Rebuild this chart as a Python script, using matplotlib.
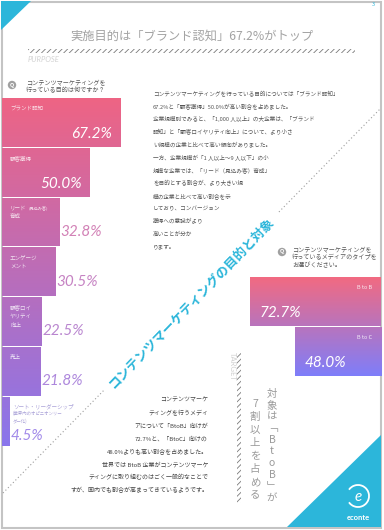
import numpy as np
import matplotlib
matplotlib.use("Agg")
import matplotlib.pyplot as plt
from matplotlib.patches import Rectangle, Polygon, Circle, Arc

plt.rcParams['font.family'] = ['Noto Sans CJK JP', 'DejaVu Sans']
plt.rcParams['hatch.linewidth'] = 0.6

W, H = 384, 530

# --- data ---
purpose_labels = [["ブランド認知"], ["顧客獲得"], ["リード", "育成"], ["エンゲージ", "メント"],
                  ["顧客ロイ", "ヤリティ", "向上"], ["売上"],
                  ["ソート・リーダーシップ", "(業界内のオピニオンリー", "ダー化)"]]
purpose_values = [67.2, 50.0, 32.8, 30.5, 22.5, 21.8, 4.5]
media_labels = ["B to B", "B to C"]
media_values = [72.7, 48.0]

title = "実施目的は「ブランド認知」67.2%がトップ"
q1_lines = ["コンテンツマーケティングを", "行っている目的は何ですか？"]
q2_lines = ["コンテンツマーケティングを", "行っているメディアのタイプを", "お選びください。"]
para1 = ["コンテンツマーケティングを行っている目的については「ブランド認知」",
         "67.2%と「顧客獲得」50.0%が高い割合を占めました。",
         "企業規模別でみると、「1,000 人以上」の大企業は、「ブランド",
         "認知」と「顧客ロイヤリティ向上」について、より小さ",
         "い規模の企業と比べて高い傾向がありました。",
         "一方、企業規模が「1 人以上～9 人以下」の小",
         "規模な企業では、「リード（見込み客）育成」",
         "を目的とする割合が、より大きい規",
         "模の企業と比べて高い割合を示",
         "しており、コンバージョン",
         "獲得への意識がより",
         "高いことが分か",
         "ります。"]
para2 = ["コンテンツマーケ",
         "ティングを行うメディ",
         "アについて「BtoB」向けが",
         "72.7%と、「BtoC」向けの",
         "48.0%よりも高い割合を占めました。",
         "世界では BtoB 企業がコンテンツマーケ",
         "ティングに取り組むのはごく一般的なことで",
         "すが、国内でも割合が高まってきているようです。"]
vert1 = "対象は﹁BtoB﹂が"
vert2 = "7割以上を占める"

CYAN = "#2cb6da"
PINK = np.array([238, 100, 132]) / 255
VIOLET = np.array([137, 118, 236]) / 255
M_TOP = np.array([243, 106, 128]) / 255
M_BOT = np.array([126, 126, 250]) / 255


def rect(x0, y0, x1, y1):
    return [x0 / W, 1 - y1 / H, (x1 - x0) / W, (y1 - y0) / H]


def grad(c0, c1, f0, f1, n=64):
    f = np.linspace(f0, f1, n)[:, None, None]
    return c0 + (c1 - c0) * f


fig = plt.figure(figsize=(W / 100, H / 100), dpi=100)
bg = fig.add_axes([0, 0, 1, 1])
bg.set_xlim(0, W)
bg.set_ylim(H, 0)
bg.axis('off')

# page frame and corners
bg.add_patch(Rectangle((1.5, 1.5), 379.5, 526, fill=False, ec="#c4c4c4", lw=1.5))
bg.add_patch(Polygon([(1, 1), (31, 1), (1, 30)], closed=True, fc=CYAN, ec="none"))
bg.add_patch(Polygon([(287, 527), (381, 435), (381, 527)], closed=True, fc=CYAN, ec="none"))
bg.text(373, 5, "3", fontsize=4, color=CYAN, ha="center", va="center")

# logo
bg.add_patch(Arc((358, 496), 22, 22, theta1=215, theta2=505, color="white", lw=1.3))
bg.text(358, 497, "e", fontsize=11, color="white", ha="center", va="center",
        family=["Lato", "DejaVu Sans"], style="italic")
bg.text(358, 517, "econte", fontsize=5.5, color="white", ha="center", va="center",
        weight="bold", family=["Lato", "DejaVu Sans"])

# title
bg.text(192, 36, title, fontsize=8.8, color="#a3a3a3", ha="center", va="center")
bg.add_patch(Rectangle((28, 49), 327, 4, fill=False, ec="#7a7a7a", lw=0, hatch="//////"))
bg.text(28, 60, "PURPOSE", fontsize=5.5, color="#d3d3d3", ha="left", va="center",
        style="italic", family=["Lato", "DejaVu Sans"])

# question icons
for (cx, cy), lines, x0, dy in [((12, 85), q1_lines, 26, 7.5), ((282, 252), q2_lines, 292, 7.5)]:
    bg.add_patch(Circle((cx, cy), 4.2, fc="#a0a0a0", ec="none"))
    bg.text(cx, cy, "Q", fontsize=4, color="white", ha="center", va="center", weight="bold")
    for k, s in enumerate(lines):
        bg.text(x0, cy - 2 + k * dy, s, fontsize=4.4, color="#555555", ha="left", va="center")

# paragraphs
for k, s in enumerate(para1):
    bg.text(153, 94 + k * 12.75, s, fontsize=4.05, color="#555555", ha="left", va="center")
for k, s in enumerate(para2):
    bg.text(208, 400 + k * 12.85, s, fontsize=4.3, color="#444444", ha="right", va="center")

# diagonal dotted line and title
p0, p1 = np.array([3, 493]), np.array([381, 108])
for t0, t1 in [(0, 0.27), (0.73, 1)]:
    a, b = p0 + (p1 - p0) * t0, p0 + (p1 - p0) * t1
    bg.plot([a[0], b[0]], [a[1], b[1]], color="#9c9c9c", lw=0.8, ls=(0, (1, 2.2)))
bg.text(191, 303, "コンテンツマーケティングの目的と対象", fontsize=9.3, color=CYAN,
        rotation=46, rotation_mode="anchor", ha="center", va="center", weight="bold")

# target side
bg.text(232, 366, "TARGET", fontsize=5.5, color="#d0d0d0", rotation=270,
        ha="center", va="center", family=["Lato", "DejaVu Sans"])
bg.add_patch(Rectangle((237, 353), 4, 150, fill=False, ec="#7a7a7a", lw=0, hatch="//////"))
for k, ch in enumerate(vert1):
    bg.text(272, 394 + k * 11.5, ch, fontsize=7.5, color="#9a9a9a", ha="center", va="center")
for k, ch in enumerate(vert2):
    bg.text(255, 404 + k * 13.0, ch, fontsize=7.5, color="#9a9a9a", ha="center", va="center")

# --- purpose bars ---
axl = fig.add_axes(rect(2, 97.5, 178, 446))
n = len(purpose_values)
pos = np.arange(n)
unit = (446 - 97.5) / n
bars = axl.barh(pos, purpose_values, height=0.98, color="none", lw=0)
for i, (b, v) in enumerate(zip(bars, purpose_values)):
    im = axl.imshow(grad(PINK, VIOLET, i / n, (i + 1) / n), extent=(0, v, i + 0.49, i - 0.49),
                    aspect="auto", origin="upper", interpolation="bilinear", zorder=2)
    im.set_clip_path(b)
    mid = PINK + (VIOLET - PINK) * (i + 0.5) / n
    light = mid + (1 - mid) * 0.15
    if i < 2:
        axl.text(v - 4.5, i + 0.24, f"{v:.1f}%", fontsize=11, color="white", ha="right",
                 va="center", style="italic", family=["Lato", "DejaVu Sans"], zorder=3)
    else:
        dy = 0.3 if i == n - 1 else 0.2
        axl.text(v + 0.6, i + dy, f"{v:.1f}%", fontsize=11, color=light, ha="left",
                 va="center", style="italic", family=["Lato", "DejaVu Sans"], zorder=3)
    lines = purpose_labels[i]
    if i == n - 1:
        for k, s in enumerate(lines):
            axl.text(6.3, i - 0.5 + (10 + 7.5 * k) / unit, s, fontsize=4 if k == 0 else 3.2,
                     color="#aaa2d8", ha="left", va="center", zorder=3)
    else:
        for k, s in enumerate(lines):
            axl.text(4.5, i - 0.5 + (11 + 8.8 * k) / unit, s, fontsize=4, color="white",
                     alpha=0.8, ha="left", va="center", zorder=3)
    if i == 2:
        axl.text(15.3, i - 0.5 + 11 / unit, "(見込み客)", fontsize=3, color="white",
                 alpha=0.8, ha="left", va="center", zorder=3)
axl.set_xlim(0, 100)
axl.set_ylim(n - 0.5, -0.5)
axl.axis("off")

# --- media bars ---
axr = fig.add_axes(rect(201, 277, 381, 376))
m = len(media_values)
mpos = np.arange(m)
mbars = axr.barh(mpos, media_values, height=0.99, color="none", lw=0)
for i, (b, v) in enumerate(zip(mbars, media_values)):
    im = axr.imshow(grad(M_TOP, M_BOT, i / m, (i + 1) / m), extent=(0, v, i + 0.5, i - 0.5),
                    aspect="auto", origin="upper", interpolation="bilinear", zorder=2)
    im.set_clip_path(b)
    axr.text(9.4, i - 0.28, media_labels[i], fontsize=4, color="white", alpha=0.85,
             ha="center", va="center", zorder=3)
    axr.text(v - 5.5, i + 0.23, f"{v:.1f}%", fontsize=11, color="white", ha="left",
             va="center", style="italic", family=["Lato", "DejaVu Sans"], zorder=3)
axr.set_xlim(100, 0)
axr.set_ylim(m - 0.5, -0.5)
axr.axis("off")

fig.savefig("out.png", dpi=100)
